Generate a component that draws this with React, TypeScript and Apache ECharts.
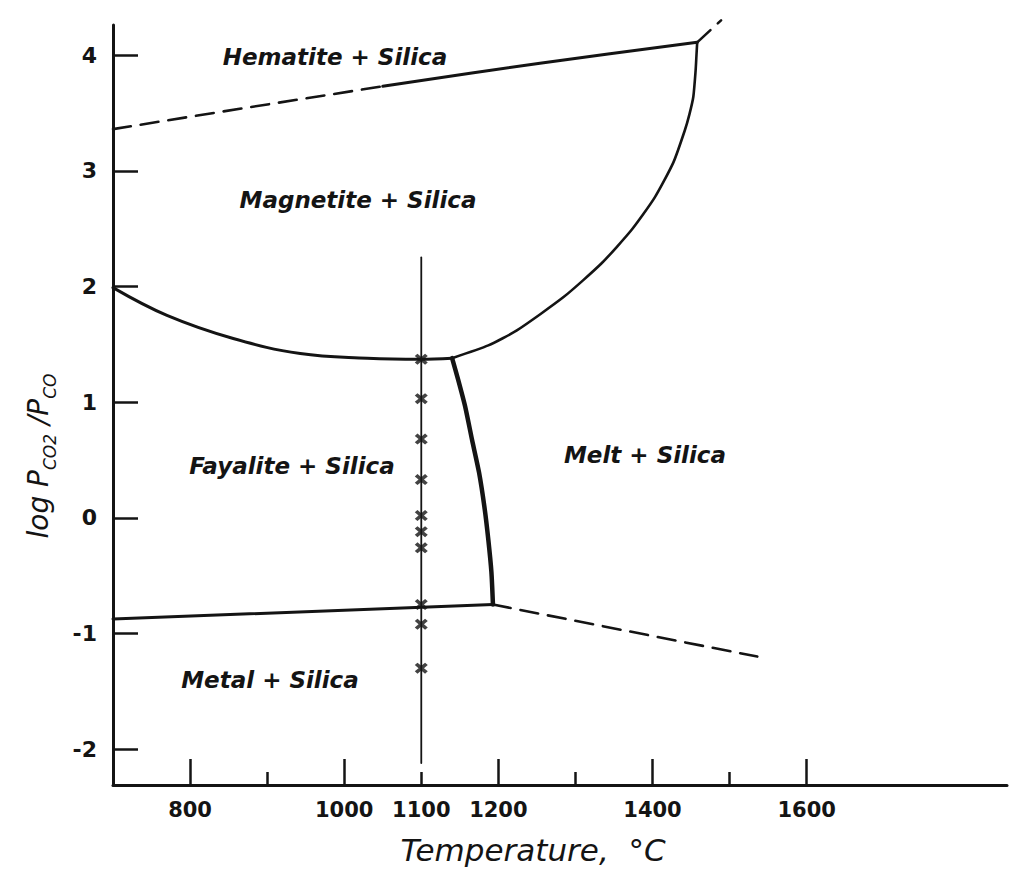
import React, { useEffect, useRef } from "react";
import * as echarts from "echarts";

// ---- axis ticks / labels ----
const xLabelValues = [800, 1000, 1100, 1200, 1400, 1600];
const xMajorTicks = [800, 1000, 1200, 1400, 1600];
const xMinorTicks = [900, 1100, 1300, 1500];
const yTickValues = [-2, -1, 0, 1, 2, 3, 4];

// ---- phase boundaries: [temperature °C, log(Pco2/Pco)] ----
const hematiteMagnetiteDashed = [[700, 3.36], [878, 3.55], [1050, 3.73]];
const hematiteMagnetiteSolid = [[1050, 3.73], [1254, 3.93], [1458, 4.11]];
const hematiteMagnetiteExtension = [[1458, 4.11], [1489, 4.3]];
const magnetiteMelt = [
  [1458, 4.11], [1457, 3.99], [1456, 3.87], [1453, 3.64], [1448, 3.49], [1442, 3.35], [1427, 3.07],
  [1403, 2.77], [1373, 2.49], [1334, 2.2], [1285, 1.91], [1224, 1.62], [1187, 1.49], [1140, 1.38],
];
const magnetiteFayalite = [
  [700, 1.99], [770, 1.75], [856, 1.55], [943, 1.42], [1030, 1.38], [1098, 1.37], [1140, 1.38],
];
const fayaliteMelt = [
  [1140, 1.38], [1148, 1.19], [1157, 0.96], [1166, 0.67], [1175, 0.39], [1182, 0.09],
  [1187, -0.19], [1191, -0.47], [1193, -0.75],
];
const fayaliteMetal = [[700, -0.875], [1193, -0.75]];
const metalMeltDashed = [[1193, -0.75], [1536, -1.2]];
const isotherm = [[1100, 2.25], [1100, -2.12]];

// ---- experimental points at 1100 °C ----
const experimentTemp = 1100;
const experimentLogRatio = [1.37, 1.03, 0.68, 0.33, 0.02, -0.12, -0.26, -0.75, -0.92, -1.3];

// ---- region labels ----
const regionNames = ["Hematite + Silica", "Magnetite + Silica", "Fayalite + Silica", "Melt + Silica", "Metal + Silica"];

const INK = "#141414";
const HAND = '"DejaVu Sans", "Liberation Sans", sans-serif';

export default function App() {
  const ref = useRef<HTMLDivElement>(null);

  useEffect(() => {
    if (!ref.current) return;
    const chart = echarts.init(ref.current, undefined, { renderer: "svg" });

    const line = (data: number[][], width: number, dashed = false, smooth: number | boolean = false) => ({
      type: "line",
      data,
      showSymbol: false,
      symbol: "none",
      smooth,
      clip: false,
      silent: true,
      lineStyle: { color: INK, width, type: dashed ? [18, 10] : "solid", cap: "round", join: "round" },
      z: 3,
    });

    const regionPos = [
      [335, 57],
      [358, 200],
      [292, 466],
      [645, 455],
      [270, 680],
    ];

    const labelFont = `italic bold 23px ${HAND}`;

    chart.setOption({
      animation: false,
      backgroundColor: "#ffffff",
      grid: { left: 113, top: 25, width: 894, height: 760, containLabel: false },
      xAxis: [
        {
          type: "value",
          min: 700,
          max: 1860,
          position: "bottom",
          axisLine: { show: true, onZero: false, lineStyle: { color: INK, width: 3 } },
          axisTick: { show: true, inside: true, length: 26, customValues: xMajorTicks, lineStyle: { color: INK, width: 2.5 } },
          axisLabel: {
            show: true,
            customValues: xLabelValues,
            margin: 14,
            color: INK,
            fontFamily: HAND,
            fontSize: 21,
            fontWeight: "bold",
            formatter: (v: number) => String(v),
          },
          splitLine: { show: false },
        },
        {
          type: "value",
          min: 700,
          max: 1860,
          position: "top",
          offset: -760,
          axisLine: { show: false, onZero: false },
          axisTick: { show: true, inside: false, length: 13, customValues: xMinorTicks, lineStyle: { color: INK, width: 2.5 } },
          axisLabel: { show: false },
          splitLine: { show: false },
        },
      ],
      yAxis: {
        type: "value",
        min: -2.31,
        max: 4.26,
        axisLine: { show: true, onZero: false, lineStyle: { color: INK, width: 3 } },
        axisTick: { show: true, inside: true, length: 25, customValues: yTickValues, lineStyle: { color: INK, width: 2.5 } },
        axisLabel: {
          show: true,
          customValues: yTickValues,
          margin: 16,
          color: INK,
          fontFamily: HAND,
          fontSize: 22,
          fontWeight: "bold",
          formatter: (v: number) => String(v),
        },
        splitLine: { show: false },
      },
      series: [
        line(hematiteMagnetiteDashed, 2.6, true),
        line(hematiteMagnetiteSolid, 3, false, 0.3),
        line(hematiteMagnetiteExtension, 2.6, true),
        line(magnetiteMelt, 2.6, false, 0.2),
        line(magnetiteFayalite, 3, false, 0.4),
        line(fayaliteMelt, 4.5, false, 0.2),
        line(fayaliteMetal, 3),
        line(metalMeltDashed, 2.6, true),
        line(isotherm, 1.8),
        {
          type: "scatter",
          data: experimentLogRatio.map((v) => [experimentTemp, v]),
          symbol: "path://M0,2.5L2.5,0L6,3.5L9.5,0L12,2.5L8.5,6L12,9.5L9.5,12L6,8.5L2.5,12L0,9.5L3.5,6Z",
          symbolSize: [13, 11],
          itemStyle: { color: INK },
          silent: true,
          z: 4,
        },
      ],
      graphic: [
        ...regionNames.map((name, i) => ({
          type: "text",
          x: regionPos[i][0],
          y: regionPos[i][1],
          silent: true,
          style: { text: name, fill: INK, font: labelFont, align: "center", verticalAlign: "middle" },
        })),
        {
          type: "text",
          x: 533,
          y: 850,
          silent: true,
          style: {
            text: "Temperature,  °C",
            fill: INK,
            font: `italic 31px ${HAND}`,
            align: "center",
            verticalAlign: "middle",
          },
        },
        {
          type: "text",
          x: 38,
          y: 456,
          rotation: Math.PI / 2,
          silent: true,
          style: {
            text: "{b|log P}{s|CO2}{b| /P}{s|CO}",
            fill: INK,
            align: "center",
            verticalAlign: "middle",
            rich: {
              b: { font: `italic 28px ${HAND}`, fill: INK, lineHeight: 40, verticalAlign: "middle" },
              s: { font: `italic 17px ${HAND}`, fill: INK, lineHeight: 20, verticalAlign: "bottom" },
            },
          },
        },
      ],
    });

    return () => chart.dispose();
  }, []);

  return (
    <div
      ref={ref}
      style={{ position: "fixed", left: 0, top: 0, width: 1034, height: 889, background: "#fff" }}
    />
  );
}
